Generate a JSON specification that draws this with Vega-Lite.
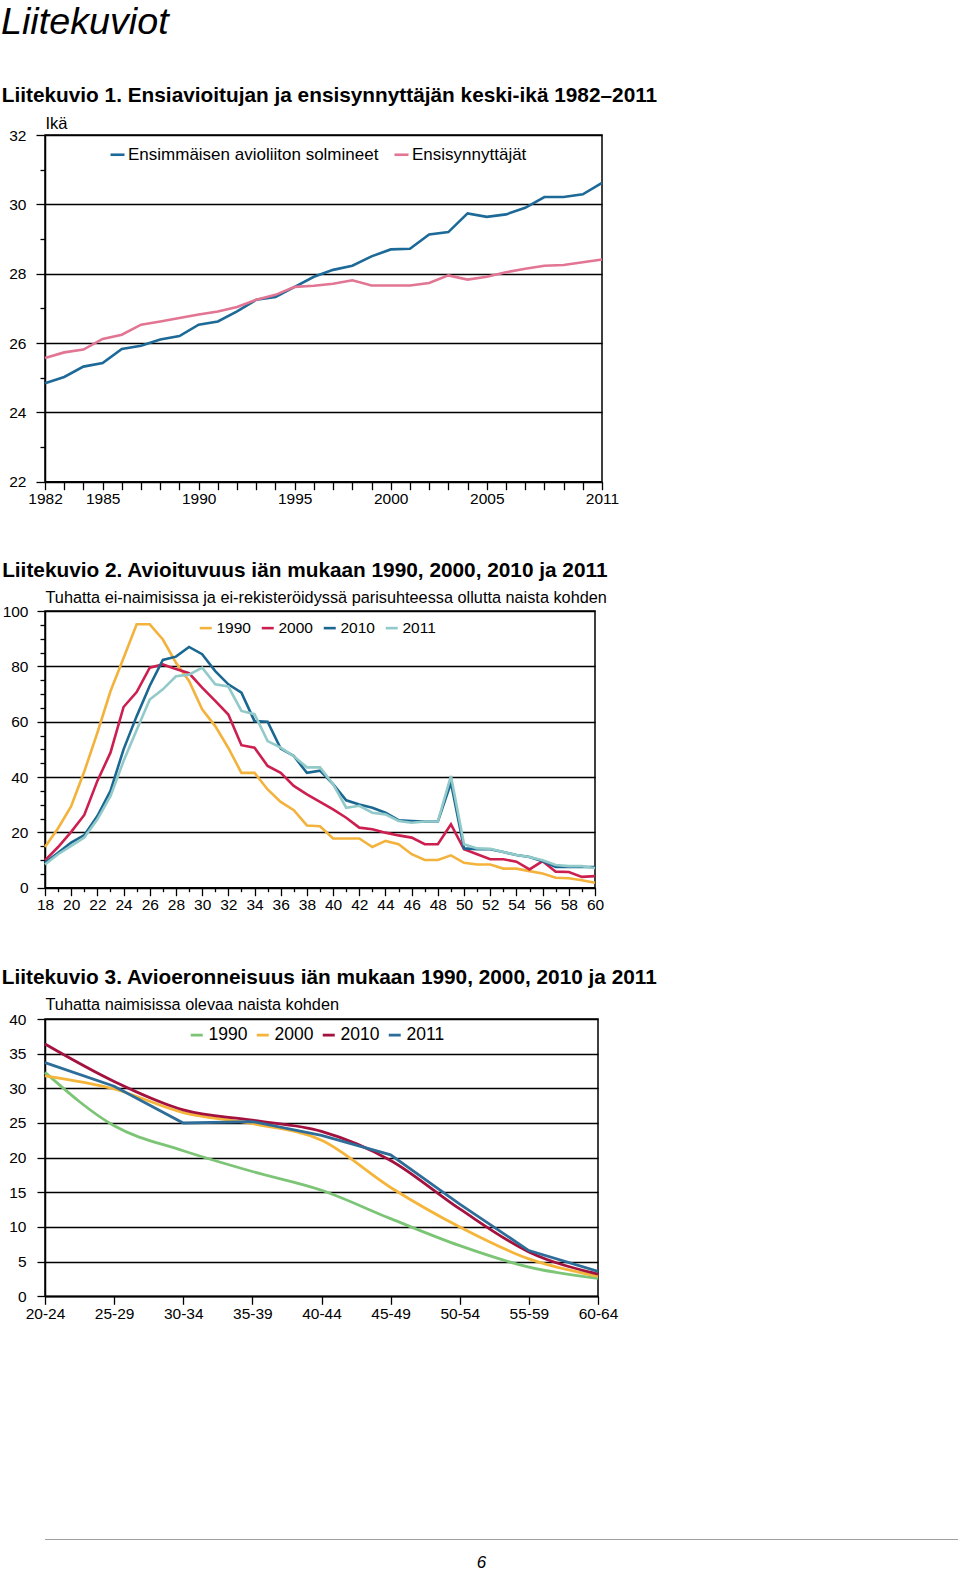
{
  "$schema": "https://vega.github.io/schema/vega-lite/v6.json",
  "padding": {"left": 1, "top": 3, "right": 2, "bottom": 0},
  "background": "white",
  "title": {"text": "Liitekuviot", "anchor": "start", "fontSize": 37.7, "fontStyle": "italic", "fontWeight": "normal", "offset": 43},
  "config": {
    "font": "Liberation Sans",
    "view": {"stroke": "#000", "strokeWidth": 1.5},
    "axis": {"domainColor": "#000", "domainWidth": 1.5, "tickColor": "#000", "tickWidth": 1.3, "gridColor": "#000", "gridWidth": 1.3, "labelColor": "#000", "labelFont": "Liberation Sans", "labelFontSize": 15.5, "titleColor": "#000", "titleFont": "Liberation Sans", "titleFontWeight": "normal", "labelFlush": false, "labelOverlap": false, "labelPadding": 3},
    "legend": {"labelColor": "#000", "labelFont": "Liberation Sans", "labelLimit": 500},
    "title": {"color": "#000", "font": "Liberation Sans"}
  },
  "align": "none",
  "spacing": 213,
  "vconcat": [
    {
      "align": "none",
      "spacing": 51,
      "resolve": {"scale": {"color": "independent", "strokeWidth": "independent"}, "legend": {"color": "independent", "strokeWidth": "independent"}},
      "vconcat": [
        {
          "width": 557,
          "height": 346.7,
          "title": {"text": "Liitekuvio 1. Ensiavioitujan ja ensisynnyttäjän keski-ikä 1982–2011", "anchor": "start", "frame": "bounds", "fontSize": 20.8, "fontWeight": "bold", "offset": 8, "dx": -7},
          "data": {"values": [
            {"vuosi": 1982, "Ensimmäisen avioliiton solmineet": 24.84, "Ensisynnyttäjät": 25.57},
            {"vuosi": 1983, "Ensimmäisen avioliiton solmineet": 25.02, "Ensisynnyttäjät": 25.73},
            {"vuosi": 1984, "Ensimmäisen avioliiton solmineet": 25.32, "Ensisynnyttäjät": 25.81},
            {"vuosi": 1985, "Ensimmäisen avioliiton solmineet": 25.42, "Ensisynnyttäjät": 26.12},
            {"vuosi": 1986, "Ensimmäisen avioliiton solmineet": 25.83, "Ensisynnyttäjät": 26.24},
            {"vuosi": 1987, "Ensimmäisen avioliiton solmineet": 25.92, "Ensisynnyttäjät": 26.53},
            {"vuosi": 1988, "Ensimmäisen avioliiton solmineet": 26.10, "Ensisynnyttäjät": 26.62},
            {"vuosi": 1989, "Ensimmäisen avioliiton solmineet": 26.20, "Ensisynnyttäjät": 26.72},
            {"vuosi": 1990, "Ensimmäisen avioliiton solmineet": 26.53, "Ensisynnyttäjät": 26.82},
            {"vuosi": 1991, "Ensimmäisen avioliiton solmineet": 26.62, "Ensisynnyttäjät": 26.91},
            {"vuosi": 1992, "Ensimmäisen avioliiton solmineet": 26.91, "Ensisynnyttäjät": 27.04},
            {"vuosi": 1993, "Ensimmäisen avioliiton solmineet": 27.25, "Ensisynnyttäjät": 27.25},
            {"vuosi": 1994, "Ensimmäisen avioliiton solmineet": 27.33, "Ensisynnyttäjät": 27.39},
            {"vuosi": 1995, "Ensimmäisen avioliiton solmineet": 27.62, "Ensisynnyttäjät": 27.62},
            {"vuosi": 1996, "Ensimmäisen avioliiton solmineet": 27.91, "Ensisynnyttäjät": 27.65},
            {"vuosi": 1997, "Ensimmäisen avioliiton solmineet": 28.11, "Ensisynnyttäjät": 27.71},
            {"vuosi": 1998, "Ensimmäisen avioliiton solmineet": 28.23, "Ensisynnyttäjät": 27.81},
            {"vuosi": 1999, "Ensimmäisen avioliiton solmineet": 28.50, "Ensisynnyttäjät": 27.66},
            {"vuosi": 2000, "Ensimmäisen avioliiton solmineet": 28.70, "Ensisynnyttäjät": 27.66},
            {"vuosi": 2001, "Ensimmäisen avioliiton solmineet": 28.72, "Ensisynnyttäjät": 27.66},
            {"vuosi": 2002, "Ensimmäisen avioliiton solmineet": 29.13, "Ensisynnyttäjät": 27.73},
            {"vuosi": 2003, "Ensimmäisen avioliiton solmineet": 29.20, "Ensisynnyttäjät": 27.95},
            {"vuosi": 2004, "Ensimmäisen avioliiton solmineet": 29.74, "Ensisynnyttäjät": 27.83},
            {"vuosi": 2005, "Ensimmäisen avioliiton solmineet": 29.64, "Ensisynnyttäjät": 27.91},
            {"vuosi": 2006, "Ensimmäisen avioliiton solmineet": 29.71, "Ensisynnyttäjät": 28.04},
            {"vuosi": 2007, "Ensimmäisen avioliiton solmineet": 29.90, "Ensisynnyttäjät": 28.14},
            {"vuosi": 2008, "Ensimmäisen avioliiton solmineet": 30.21, "Ensisynnyttäjät": 28.23},
            {"vuosi": 2009, "Ensimmäisen avioliiton solmineet": 30.21, "Ensisynnyttäjät": 28.25},
            {"vuosi": 2010, "Ensimmäisen avioliiton solmineet": 30.29, "Ensisynnyttäjät": 28.33},
            {"vuosi": 2011, "Ensimmäisen avioliiton solmineet": 30.62, "Ensisynnyttäjät": 28.41}
          ]},
          "transform": [{"fold": ["Ensimmäisen avioliiton solmineet", "Ensisynnyttäjät"], "as": ["sarja", "ika"]}],
          "mark": {"type": "line", "strokeWidth": 2.6},
          "encoding": {
            "x": {"field": "vuosi", "type": "quantitative", "scale": {"domain": [1982, 2011], "nice": false, "zero": false},
              "axis": {"title": null, "grid": false, "format": "d", "tickSize": 8, "labelPadding": 2,
                "values": [1982,1983,1984,1985,1986,1987,1988,1989,1990,1991,1992,1993,1994,1995,1996,1997,1998,1999,2000,2001,2002,2003,2004,2005,2006,2007,2008,2009,2010,2011],
                "labelExpr": "indexof([1982,1985,1990,1995,2000,2005,2011], datum.value) >= 0 ? datum.label : ''"}},
            "y": {"field": "ika", "type": "quantitative", "scale": {"domain": [22, 32], "nice": false, "zero": false},
              "axis": {"title": "Ikä", "titleAngle": 0, "titleAlign": "left", "titleBaseline": "alphabetic", "titleX": 0, "titleY": -7, "titleFontSize": 16.5,
                "values": [22,22.5,23,23.5,24,24.5,25,25.5,26,26.5,27,27.5,28,28.5,29,29.5,30,30.5,31,31.5,32],
                "format": "d", "labelPadding": 10,
                "labelExpr": "datum.value % 2 === 0 ? datum.label : ''",
                "grid": true,
                "gridOpacity": {"condition": {"test": "datum.value % 2 === 0", "value": 1}, "value": 0},
                "tickSize": {"condition": {"test": "datum.value % 2 === 0", "value": 9}, "value": 5}}},
            "color": {"field": "sarja", "type": "nominal",
              "scale": {"domain": ["Ensimmäisen avioliiton solmineet", "Ensisynnyttäjät"], "range": ["#1d6997", "#e27593"]},
              "legend": {"title": null, "orient": "none", "legendX": 64, "legendY": 11, "direction": "horizontal", "labelFontSize": 17, "symbolType": "stroke", "symbolSize": 196, "symbolStrokeWidth": 2.6, "labelOffset": 2, "columnPadding": 10}}
          }
        },
        {
          "width": 550,
          "height": 276.7,
          "title": {"text": "Liitekuvio 2. Avioituvuus iän mukaan 1990, 2000, 2010 ja 2011", "anchor": "start", "frame": "bounds", "fontSize": 20.8, "fontWeight": "bold", "offset": 7},
          "data": {"values": [
            {"ika": 18, "1990": 14.7, "2000": 9.9, "2010": 9.0, "2011": 8.4},
            {"ika": 19, "1990": 21.5, "2000": 14.7, "2010": 12.6, "2011": 12.1},
            {"ika": 20, "1990": 29.5, "2000": 20.2, "2010": 16.3, "2011": 15.1},
            {"ika": 21, "1990": 42.0, "2000": 26.3, "2010": 19.0, "2011": 18.1},
            {"ika": 22, "1990": 56.0, "2000": 38.6, "2010": 25.9, "2011": 24.7},
            {"ika": 23, "1990": 71.0, "2000": 48.8, "2010": 35.0, "2011": 33.1},
            {"ika": 24, "1990": 83.0, "2000": 65.3, "2010": 50.0, "2011": 45.8},
            {"ika": 25, "1990": 95.2, "2000": 70.7, "2010": 62.0, "2011": 57.0},
            {"ika": 26, "1990": 95.2, "2000": 79.5, "2010": 73.0, "2011": 68.0},
            {"ika": 27, "1990": 89.7, "2000": 80.7, "2010": 82.3, "2011": 71.7},
            {"ika": 28, "1990": 81.3, "2000": 79.0, "2010": 83.5, "2011": 76.4},
            {"ika": 29, "1990": 74.7, "2000": 77.5, "2010": 87.0, "2011": 77.0},
            {"ika": 30, "1990": 64.5, "2000": 72.3, "2010": 84.4, "2011": 79.5},
            {"ika": 31, "1990": 58.4, "2000": 67.5, "2010": 78.3, "2011": 73.5},
            {"ika": 32, "1990": 50.5, "2000": 62.6, "2010": 73.5, "2011": 72.7},
            {"ika": 33, "1990": 41.5, "2000": 51.5, "2010": 70.5, "2011": 63.9},
            {"ika": 34, "1990": 41.5, "2000": 50.6, "2010": 60.2, "2011": 62.7},
            {"ika": 35, "1990": 35.5, "2000": 44.0, "2010": 60.0, "2011": 53.0},
            {"ika": 36, "1990": 31.0, "2000": 41.5, "2010": 50.3, "2011": 50.6},
            {"ika": 37, "1990": 28.0, "2000": 36.8, "2010": 47.6, "2011": 47.5},
            {"ika": 38, "1990": 22.5, "2000": 33.7, "2010": 41.5, "2011": 43.5},
            {"ika": 39, "1990": 22.2, "2000": 31.0, "2010": 42.3, "2011": 43.5},
            {"ika": 40, "1990": 17.8, "2000": 28.3, "2010": 37.4, "2011": 37.4},
            {"ika": 41, "1990": 17.8, "2000": 25.3, "2010": 31.6, "2011": 28.9},
            {"ika": 42, "1990": 17.8, "2000": 21.7, "2010": 30.1, "2011": 29.6},
            {"ika": 43, "1990": 14.7, "2000": 21.1, "2010": 28.9, "2011": 27.1},
            {"ika": 44, "1990": 16.9, "2000": 19.9, "2010": 27.1, "2011": 26.5},
            {"ika": 45, "1990": 15.7, "2000": 18.9, "2010": 24.4, "2011": 24.1},
            {"ika": 46, "1990": 12.1, "2000": 18.1, "2010": 24.1, "2011": 23.5},
            {"ika": 47, "1990": 10.0, "2000": 15.7, "2010": 23.9, "2011": 23.9},
            {"ika": 48, "1990": 10.0, "2000": 15.7, "2010": 23.9, "2011": 23.9},
            {"ika": 49, "1990": 11.7, "2000": 22.9, "2010": 37.9, "2011": 40.4},
            {"ika": 50, "1990": 9.0, "2000": 13.9, "2010": 14.2, "2011": 15.7},
            {"ika": 51, "1990": 8.4, "2000": 12.1, "2010": 13.9, "2011": 14.2},
            {"ika": 52, "1990": 8.4, "2000": 10.3, "2010": 13.9, "2011": 14.1},
            {"ika": 53, "1990": 6.9, "2000": 10.3, "2010": 12.9, "2011": 12.9},
            {"ika": 54, "1990": 6.9, "2000": 9.4, "2010": 11.8, "2011": 11.8},
            {"ika": 55, "1990": 6.0, "2000": 6.6, "2010": 11.1, "2011": 11.1},
            {"ika": 56, "1990": 5.1, "2000": 9.6, "2010": 9.6, "2011": 9.9},
            {"ika": 57, "1990": 3.6, "2000": 5.8, "2010": 7.5, "2011": 8.2},
            {"ika": 58, "1990": 3.4, "2000": 5.7, "2010": 7.5, "2011": 7.8},
            {"ika": 59, "1990": 2.7, "2000": 3.9, "2010": 7.5, "2011": 7.8},
            {"ika": 60, "1990": 1.8, "2000": 4.2, "2010": 7.5, "2011": 7.0}
          ]},
          "transform": [{"fold": ["1990", "2000", "2010", "2011"], "as": ["vuosi", "arvo"]}],
          "mark": {"type": "line"},
          "encoding": {
            "x": {"field": "ika", "type": "quantitative", "scale": {"domain": [18, 60], "nice": false, "zero": false},
              "axis": {"title": null, "grid": false, "labelPadding": 2,
                "values": [18,19,20,21,22,23,24,25,26,27,28,29,30,31,32,33,34,35,36,37,38,39,40,41,42,43,44,45,46,47,48,49,50,51,52,53,54,55,56,57,58,59,60],
                "labelExpr": "datum.value % 2 === 0 ? datum.label : ''",
                "tickSize": {"condition": {"test": "datum.value % 2 === 0", "value": 8}, "value": 4}}},
            "y": {"field": "arvo", "type": "quantitative", "scale": {"domain": [0, 100], "nice": false},
              "axis": {"title": "Tuhatta ei-naimisissa ja ei-rekisteröidyssä parisuhteessa ollutta naista kohden", "titleAngle": 0, "titleAlign": "left", "titleBaseline": "alphabetic", "titleX": 0, "titleY": -9, "titleFontSize": 16.3,
                "values": [0,5,10,15,20,25,30,35,40,45,50,55,60,65,70,75,80,85,90,95,100],
                "labelPadding": 9,
                "labelExpr": "datum.value % 20 === 0 ? datum.label : ''",
                "grid": true,
                "gridOpacity": {"condition": {"test": "datum.value % 20 === 0", "value": 1}, "value": 0},
                "tickSize": {"condition": {"test": "datum.value % 20 === 0", "value": 8}, "value": 5}}},
            "color": {"field": "vuosi", "type": "ordinal",
              "scale": {"domain": ["1990", "2000", "2010", "2011"], "range": ["#f3b23c", "#cc1f4f", "#1a6791", "#92c9c9"]},
              "legend": {"title": null, "orient": "none", "legendX": 153, "legendY": 9, "direction": "horizontal", "labelFontSize": 15.5, "symbolType": "stroke", "symbolSize": 144, "labelOffset": 3, "columnPadding": 5}},
            "strokeWidth": {"field": "vuosi", "type": "ordinal",
              "scale": {"domain": ["1990", "2000", "2010", "2011"], "range": [2.6, 2.6, 2.6, 1.2]},
              "legend": {"title": null, "orient": "none", "legendX": 153, "legendY": 9, "direction": "horizontal", "labelFontSize": 15.5, "symbolType": "stroke", "symbolSize": 144, "labelOffset": 3, "columnPadding": 5}}
          }
        },
        {
          "width": 553,
          "height": 277.3,
          "title": {"text": "Liitekuvio 3. Avioeronneisuus iän mukaan 1990, 2000, 2010 ja 2011", "anchor": "start", "frame": "bounds", "fontSize": 20.8, "fontWeight": "bold", "offset": 7.7, "dx": -7},
          "data": {"values": [
            {"ryhma": "20-24", "1990": 32.3, "2000": 31.8, "2010": 36.4, "2011": 33.7},
            {"ryhma": "25-29", "1990": 24.6, "2000": 29.9, "2010": 31.0, "2011": 30.3},
            {"ryhma": "30-34", "1990": 21.0, "2000": 26.5, "2010": 26.9, "2011": 25.0},
            {"ryhma": "35-39", "1990": 18.0, "2000": 24.9, "2010": 25.4, "2011": 25.2},
            {"ryhma": "40-44", "1990": 15.3, "2000": 22.5, "2010": 23.8, "2011": 23.2},
            {"ryhma": "45-49", "1990": 11.2, "2000": 15.7, "2010": 19.6, "2011": 20.4},
            {"ryhma": "50-54", "1990": 7.3, "2000": 10.0, "2010": 12.6, "2011": 13.3},
            {"ryhma": "55-59", "1990": 4.2, "2000": 5.4, "2010": 6.4, "2011": 6.6},
            {"ryhma": "60-64", "1990": 2.6, "2000": 2.9, "2010": 3.2, "2011": 3.6}
          ]},
          "transform": [{"fold": ["1990", "2000", "2010", "2011"], "as": ["vuosi", "arvo"]}],
          "encoding": {
            "x": {"field": "ryhma", "type": "ordinal", "scale": {"type": "point", "padding": 0},
              "axis": {"title": null, "grid": false, "labelAngle": 0, "tickSize": 8, "labelPadding": 2}},
            "y": {"field": "arvo", "type": "quantitative", "scale": {"domain": [0, 40], "nice": false},
              "axis": {"title": "Tuhatta naimisissa olevaa naista kohden", "titleAngle": 0, "titleAlign": "left", "titleBaseline": "alphabetic", "titleX": 0, "titleY": -10, "titleFontSize": 16.3,
                "values": [0,5,10,15,20,25,30,35,40], "grid": true, "tickSize": 8, "labelPadding": 11}},
            "color": {"field": "vuosi", "type": "ordinal",
              "scale": {"domain": ["1990", "2000", "2010", "2011"], "range": ["#7cc576", "#f5b53a", "#a3123f", "#2e6d98"]},
              "legend": {"title": null, "orient": "none", "legendX": 143, "legendY": 7, "direction": "horizontal", "labelFontSize": 17.5, "symbolType": "stroke", "symbolSize": 144, "labelOffset": 3, "columnPadding": 3}},
            "strokeWidth": {"field": "vuosi", "type": "ordinal",
              "scale": {"domain": ["1990", "2000", "2010", "2011"], "range": [2.8, 2.8, 2.8, 1.1]},
              "legend": {"title": null, "orient": "none", "legendX": 143, "legendY": 7, "direction": "horizontal", "labelFontSize": 17.5, "symbolType": "stroke", "symbolSize": 144, "labelOffset": 3, "columnPadding": 3}}
          },
          "layer": [
            {"transform": [{"filter": "datum.vuosi !== '2011'"}], "mark": {"type": "line", "interpolate": "monotone"}},
            {"transform": [{"filter": "datum.vuosi === '2011'"}], "mark": {"type": "line"}}
          ]
        }
      ]
    },
    {
      "width": 913,
      "height": 1,
      "view": {"fill": "#a0a0a0", "stroke": null},
      "title": {"text": "6", "orient": "bottom", "anchor": "middle", "dx": -20, "fontSize": 17, "fontStyle": "italic", "fontWeight": "normal", "offset": 13},
      "data": {"values": [{"k": 0}]},
      "mark": {"type": "point", "opacity": 0},
      "encoding": {}
    }
  ]
}
